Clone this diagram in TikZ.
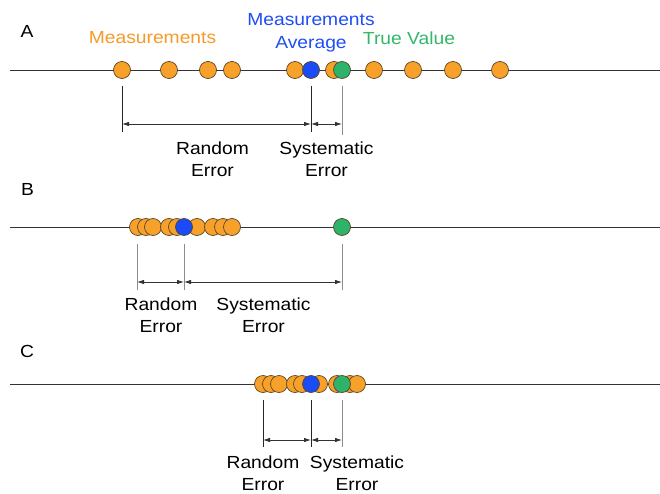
\documentclass[tikz,border=0pt]{standalone}
\usepackage{fontspec}
\setmainfont{Liberation Sans}
\newfontfamily\lblfont[FakeStretch=1.1]{Liberation Sans}
\usetikzlibrary{arrows.meta}
\definecolor{dotorange}{HTML}{F7A12B}
\definecolor{dotblue}{HTML}{1A4BF5}
\definecolor{dotgreen}{HTML}{2DB36A}
\definecolor{txtorange}{HTML}{F79A2A}
\definecolor{txtblue}{HTML}{1F4EF5}
\definecolor{txtgreen}{HTML}{33B86B}
\definecolor{dotedge}{HTML}{5A4628}
\begin{document}
\begin{tikzpicture}[x=1pt,y=-1pt,
  dotbase/.style={circle,draw=dotedge,line width=0.7pt,inner sep=0pt,minimum size=17pt},
  odot/.style={dotbase,fill=dotorange},
  bdot/.style={dotbase,fill=dotblue},
  gdot/.style={dotbase,fill=dotgreen},
  axisline/.style={draw=black!80,line width=0.8pt},
  tick/.style={draw=black!85,line width=0.7pt},
  gtick/.style={draw=black!45,line width=0.9pt},
  dim/.style={draw=black!80,line width=0.8pt,{Latex[length=7pt,width=4.5pt]}-{Latex[length=7pt,width=4.5pt]}},
  lbl/.style={font=\lblfont\fontsize{17.5}{22}\selectfont,align=center,inner sep=0pt},
  letter/.style={font=\lblfont\fontsize{17.5}{20}\selectfont,inner sep=0pt,anchor=base}]
\useasboundingbox (0,0) rectangle (660,494);
\fill[white] (0,0) rectangle (660,494);

% ---------------- A ----------------
\node[letter] (labA) at (27,38) {A};
\node[lbl,text=txtorange,anchor=base] (measA) at (152.5,44) {Measurements};
\node[lbl,text=txtblue,font=\lblfont\fontsize{17.5}{23}\selectfont] (avgA) at (311,33) {Measurements\\Average};
\node[lbl,text=txtgreen,anchor=base] (trueA) at (409,45) {True Value};
\coordinate (aL) at (10,70);
\coordinate (aR) at (660,70);
\draw[axisline] (aL) -- (aR);
\node[odot] (a1) at (122,70) {};
\node[odot] (a2) at (169,70) {};
\node[odot] (a3) at (208,70) {};
\node[odot] (a4) at (232,70) {};
\node[odot] (a5) at (295,70) {};
\node[odot] (a6) at (334,70) {};
\node[odot] (a7) at (374,70) {};
\node[odot] (a8) at (413,70) {};
\node[odot] (a9) at (453,70) {};
\node[odot] (a10) at (500,70) {};
\node[bdot] (aAvg) at (311,70) {};
\node[gdot] (aTrue) at (342,70) {};
\coordinate (aT1a) at (122,86); \coordinate (aT1b) at (122,132);
\coordinate (aT2a) at (311,86); \coordinate (aT2b) at (311,132);
\coordinate (aT3a) at (342,86); \coordinate (aT3b) at (342,135);
\draw[tick] (aT1a) -- (aT1b);
\draw[tick] (aT2a) -- (aT2b);
\draw[gtick] (aT3a) -- (aT3b);
\coordinate (aD1) at (122,124); \coordinate (aD2) at (311,124); \coordinate (aD3) at (342,124);
\draw[dim] (aD1) -- (aD2);
\draw[dim] (aD2) -- (aD3);
\node[lbl] (randA) at (212.5,159.5) {Random\\Error};
\node[lbl] (sysA) at (326.5,159.5) {Systematic\\Error};

% ---------------- B ----------------
\node[letter] (labB) at (27.5,196) {B};
\coordinate (bL) at (10,227);
\coordinate (bR) at (660,227);
\draw[axisline] (bL) -- (bR);
\node[odot] (b1) at (138,227) {};
\node[odot] (b2) at (146,227) {};
\node[odot] (b3) at (153,227) {};
\node[odot] (b4) at (169,227) {};
\node[odot] (b5) at (177,227) {};
\node[odot] (b6) at (197,227) {};
\node[odot] (b7) at (213,227) {};
\node[odot] (b8) at (223,227) {};
\node[odot] (b9) at (232,227) {};
\node[bdot] (bAvg) at (184,227) {};
\node[gdot] (bTrue) at (342,227) {};
\coordinate (bT1a) at (137,244); \coordinate (bT1b) at (137,290);
\coordinate (bT2a) at (184,244); \coordinate (bT2b) at (184,290);
\coordinate (bT3a) at (342,244); \coordinate (bT3b) at (342,290);
\draw[gtick] (bT1a) -- (bT1b);
\draw[gtick] (bT2a) -- (bT2b);
\draw[gtick] (bT3a) -- (bT3b);
\coordinate (bD1) at (137,282); \coordinate (bD2) at (184,282); \coordinate (bD3) at (342,282);
\draw[dim] (bD1) -- (bD2);
\draw[dim] (bD2) -- (bD3);
\node[lbl] (randB) at (161,315.5) {Random\\Error};
\node[lbl] (sysB) at (263.5,315.5) {Systematic\\Error};

% ---------------- C ----------------
\node[letter] (labC) at (27,357) {C};
\coordinate (cL) at (10,384);
\coordinate (cR) at (660,384);
\draw[axisline] (cL) -- (cR);
\node[odot] (c1) at (263,384) {};
\node[odot] (c2) at (271,384) {};
\node[odot] (c3) at (279,384) {};
\node[odot] (c4) at (295,384) {};
\node[odot] (c5) at (302,384) {};
\node[odot] (c6) at (319,384) {};
\node[odot] (c7) at (337,384) {};
\node[odot] (c8) at (350,384) {};
\node[odot] (c9) at (357,384) {};
\node[bdot] (cAvg) at (311,384) {};
\node[gdot] (cTrue) at (342,384) {};
\coordinate (cT1a) at (263,400); \coordinate (cT1b) at (263,447);
\coordinate (cT2a) at (311,400); \coordinate (cT2b) at (311,447);
\coordinate (cT3a) at (342,400); \coordinate (cT3b) at (342,447);
\draw[tick] (cT1a) -- (cT1b);
\draw[tick] (cT2a) -- (cT2b);
\draw[gtick] (cT3a) -- (cT3b);
\coordinate (cD1) at (263,440); \coordinate (cD2) at (311,440); \coordinate (cD3) at (342,440);
\draw[dim] (cD1) -- (cD2);
\draw[dim] (cD2) -- (cD3);
\node[lbl] (randC) at (263,473.5) {Random\\Error};
\node[lbl] (sysC) at (357,473.5) {Systematic\\Error};
\end{tikzpicture}
\end{document}
